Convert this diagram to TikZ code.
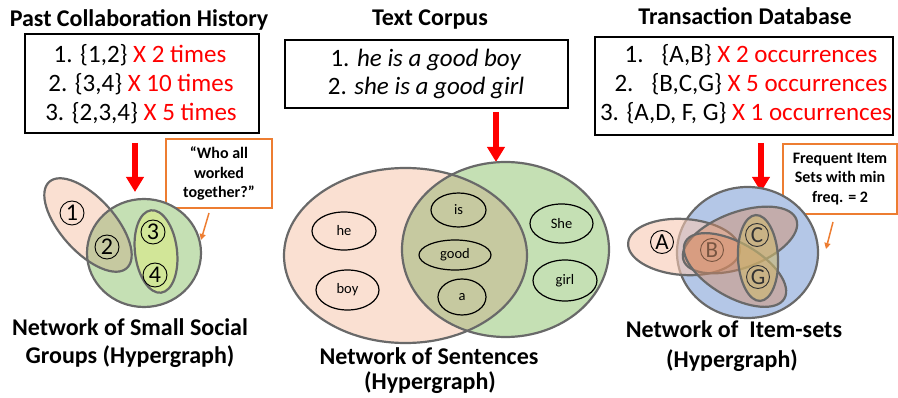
\documentclass[tikz,border=0pt]{standalone}
\usepackage{fontspec}
\setmainfont{Carlito}
\usetikzlibrary{arrows.meta,shapes.geometric}
\definecolor{pinkf}{RGB}{250,224,210}
\definecolor{greenf}{RGB}{197,224,180}
\definecolor{khaki}{RGB}{198,201,160}
\definecolor{limef}{RGB}{210,230,152}
\definecolor{bluef}{RGB}{180,199,231}
\definecolor{pinkab}{RGB}{246,200,178}
\definecolor{brownf}{RGB}{215,140,100}
\definecolor{yellowf}{RGB}{205,185,110}
\definecolor{edgegray}{RGB}{105,105,105}
\definecolor{xred}{RGB}{255,0,0}
\definecolor{oorange}{RGB}{237,125,49}
\definecolor{bletter}{RGB}{120,85,65}
\begin{document}
\begin{tikzpicture}[x=1pt,y=-1pt,
 hedge/.style={draw=edgegray,line width=2.2pt},
 title/.style={anchor=base,font=\fontsize{24}{29}\selectfont\bfseries},
 btxt/.style={anchor=base,font=\fontsize{25}{29}\selectfont},
 lbl/.style={anchor=base,font=\fontsize{24}{29}\selectfont\bfseries},
 listbox/.style={draw=black,line width=1.2pt,inner sep=0pt},
 notebox/.style={draw=oorange,line width=1.1pt,align=center,inner sep=0pt,font=\fontsize{16}{19.5}\selectfont\bfseries},
 bigarrow/.style={draw=xred,line width=5.5pt,-{Triangle[width=17pt,length=15pt]}},
 smallarrow/.style={draw=oorange,line width=1.5pt,-{Triangle[width=6pt,length=6pt]}},
 vnum/.style={circle,draw=black,line width=0.9pt,minimum size=24pt,inner sep=0pt,font=\fontsize{24}{24}\selectfont},
 vlet/.style={circle,draw=black,line width=0.9pt,minimum size=23pt,inner sep=0pt,font=\fontsize{23}{23}\selectfont},
 word/.style={ellipse,draw=black,line width=1.2pt,inner sep=0pt,font=\fontsize{14.5}{14.5}\selectfont},
]
\useasboundingbox (0,0) rectangle (898,398);

% ---------------- titles ----------------
\node[title] (t1) at (139,27) {Past Collaboration History};
\node[title] (t2) at (430,26) {Text Corpus};
\node[title] (t3) at (745,25) {Transaction Database};

% ---------------- boxes ----------------
\node[listbox,minimum width=234pt,minimum height=99pt] (box1) at (142,83.5) {};
\node[btxt] (l11) at (140,63) {1. \{1,2\} \textcolor{xred}{X 2 times}};
\node[btxt] (l12) at (141,92) {2. \{3,4\} \textcolor{xred}{X 10 times}};
\node[btxt] (l13) at (141,121) {3. \{2,3,4\} \textcolor{xred}{X 5 times}};

\node[listbox,minimum width=283pt,minimum height=68pt] (box2) at (426.5,74) {};
\node[btxt] (l21) at (426,67) {1. \textit{he is a good boy}};
\node[btxt] (l22) at (426,95) {2. \textit{she is a good girl}};

\node[listbox,minimum width=298pt,minimum height=98pt] (box3) at (744,86) {};
\node[btxt] (l31) at (751,63) {1.\hspace{18pt}\{A,B\} \textcolor{xred}{X 2 occurrences}};
\node[btxt] (l32) at (751,92) {2.\hspace{18pt}\{B,C,G\} \textcolor{xred}{X 5 occurrences}};
\node[btxt] (l33) at (746,121) {3. \{A,D, F, G\} \textcolor{xred}{X 1 occurrences}};

% ---------------- red arrows ----------------
\coordinate (a1s) at (135,143); \coordinate (a1e) at (135,192);
\coordinate (a2s) at (496,112); \coordinate (a2e) at (496,162);
\coordinate (a3s) at (761,143); \coordinate (a3e) at (761,192);
\draw[bigarrow] (a1s) -- (a1e);
\draw[bigarrow] (a2s) -- (a2e);
\draw[bigarrow] (a3s) -- (a3e);

% ---------------- note boxes ----------------
\node[notebox,minimum width=106pt,minimum height=69pt] (n1) at (219,173.5) {“Who all\\worked\\together?”};
\node[notebox,minimum width=114pt,minimum height=70pt] (n2) at (840,179) {Frequent Item\\Sets with min\\freq. = 2};
\coordinate (o1s) at (209,213); \coordinate (o1e) at (201,240);
\coordinate (o2s) at (833,222); \coordinate (o2e) at (826,249);
\draw[smallarrow] (o1s) -- (o1e);
\draw[smallarrow] (o2s) -- (o2e);

% ---------------- left hypergraph ----------------
\fill[pinkf,rotate around={-48:(88,225)}] (88,225) ellipse [x radius=58pt,y radius=27pt];
\fill[greenf] (144,253) ellipse [x radius=57pt,y radius=54pt];
\begin{scope}
\clip[rotate around={-48:(88,225)}] (88,225) ellipse [x radius=58pt,y radius=27pt];
\fill[khaki] (144,253) ellipse [x radius=57pt,y radius=54pt];
\end{scope}
\draw[hedge,rotate around={-48:(88,225)}] (88,225) ellipse [x radius=58pt,y radius=27pt];
\draw[hedge] (144,253) ellipse [x radius=57pt,y radius=54pt];
\filldraw[hedge,fill=limef,rotate around={7:(156,251.5)}] (156,251.5) ellipse [x radius=21pt,y radius=41.5pt];
\node[vnum] (v1) at (72,213) {1};
\node[vnum] (v2) at (107,247) {2};
\node[vnum] (v3) at (153,232) {3};
\node[vnum] (v4) at (155,275) {4};

% ---------------- middle hypergraph ----------------
\fill[pinkf] (405.5,255.5) ellipse [x radius=121.5pt,y radius=87.5pt];
\fill[greenf] (505.5,249.5) ellipse [x radius=103.5pt,y radius=87.5pt];
\begin{scope}
\clip (405.5,255.5) ellipse [x radius=121.5pt,y radius=87.5pt];
\fill[khaki] (505.5,249.5) ellipse [x radius=103.5pt,y radius=87.5pt];
\end{scope}
\draw[hedge] (405.5,255.5) ellipse [x radius=121.5pt,y radius=87.5pt];
\draw[hedge] (505.5,249.5) ellipse [x radius=103.5pt,y radius=87.5pt];
\node[word,minimum width=64pt,minimum height=38pt] (whe) at (344,231) {he};
\node[word,minimum width=63pt,minimum height=40pt] (wboy) at (347.5,290) {boy};
\node[word,minimum width=55pt,minimum height=34pt] (wis) at (458.5,210) {is};
\node[word,minimum width=72pt,minimum height=30pt] (wgood) at (455,255) {good};
\node[word,minimum width=48pt,minimum height=36pt] (wa) at (462,297) {a};
\node[word,minimum width=63pt,minimum height=39pt] (wshe) at (561.5,223.5) {She};
\node[word,minimum width=64pt,minimum height=41pt] (wgirl) at (565,280.5) {girl};

% ---------------- right hypergraph ----------------
\filldraw[hedge,fill=bluef] (747.5,252.5) ellipse [x radius=70.5pt,y radius=65.5pt];
\filldraw[hedge,fill=pinkab,fill opacity=0.6,rotate around={-4:(684,247)}] (684,247) ellipse [x radius=56pt,y radius=28pt];
\filldraw[hedge,fill=brownf,fill opacity=0.45,rotate around={20:(740,240)}] (740,240) ellipse [x radius=60pt,y radius=28pt];
\filldraw[hedge,fill=brownf,fill opacity=0.45,rotate around={-30:(735,270)}] (735,270) ellipse [x radius=57pt,y radius=27pt];
\filldraw[hedge,fill=yellowf,fill opacity=0.6,rotate around={3:(758,258)}] (758,258) ellipse [x radius=20pt,y radius=43pt];
\node[vlet] (vA) at (662,242) {A};
\node[vlet,draw=bletter,text=bletter] (vB) at (712,250) {B};
\node[vlet,draw=black!80,text=black!80] (vC) at (757,235) {C};
\node[vlet,draw=black!80,text=black!80] (vG) at (758,277) {G};

% ---------------- bottom labels ----------------
\node[lbl] (b11) at (130,336) {Network of Small Social};
\node[lbl] (b12) at (130,364) {Groups (Hypergraph)};
\node[lbl] (b21) at (429,365) {Network of Sentences};
\node[lbl] (b22) at (430,390) {(Hypergraph)};
\node[lbl] (b31) at (734,338) {Network of\ \ Item-sets};
\node[lbl] (b32) at (732,368) {(Hypergraph)};
\end{tikzpicture}
\end{document}
